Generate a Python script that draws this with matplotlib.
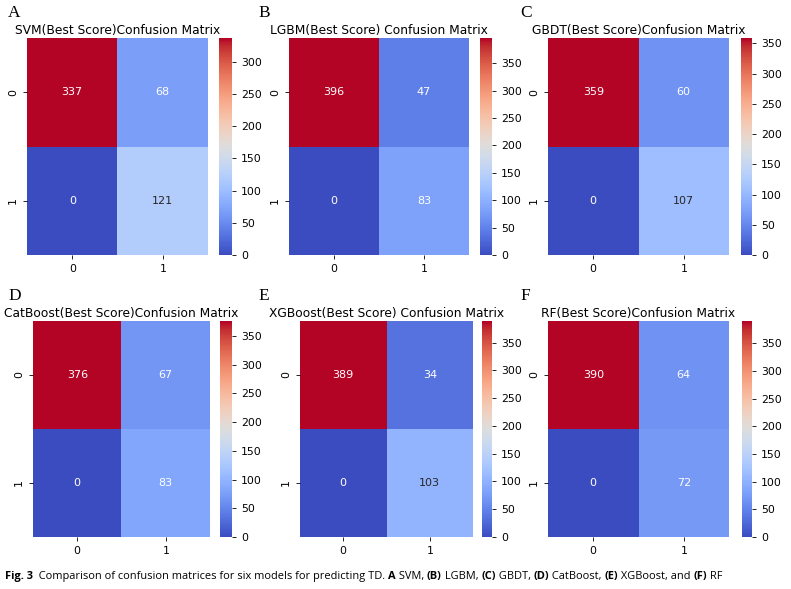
import matplotlib

matplotlib.use("Agg")

import matplotlib.pyplot as plt
import numpy as np
import seaborn as sns


FIG_W, FIG_H = 791, 589

PANEL_LETTERS = ["A", "B", "C", "D", "E", "F"]
TITLES = [
    "SVM(Best Score)Confusion Matrix",
    "LGBM(Best Score) Confusion Matrix",
    "GBDT(Best Score)Confusion Matrix",
    "CatBoost(Best Score)Confusion Matrix",
    "XGBoost(Best Score) Confusion Matrix",
    "RF(Best Score)Confusion Matrix",
]
SVM_CM = [[337, 68], [0, 121]]
LGBM_CM = [[396, 47], [0, 83]]
GBDT_CM = [[359, 60], [0, 107]]
CATBOOST_CM = [[376, 67], [0, 83]]
XGBOOST_CM = [[389, 34], [0, 103]]
RF_CM = [[390, 64], [0, 72]]
MATRICES = [SVM_CM, LGBM_CM, GBDT_CM, CATBOOST_CM, XGBOOST_CM, RF_CM]
CLASS_LABELS = ["0", "1"]

# pixel boxes: heatmap (left, right), colorbar (left, right), row (top, bottom), letter x
LAYOUT = [
    ((27, 208), (219, 232), (38, 255), 8),
    ((289, 469), (480, 492), (38, 255), 258),
    ((548, 729), (741, 752), (38, 255), 520),
    ((33, 210), (220, 232), (321, 537), 8),
    ((300, 473), (482, 492), (321, 537), 258),
    ((548, 729), (742, 752), (321, 537), 520),
]

CAPTION_PARTS = [
    ("Fig. 3", "bold"),
    ("  Comparison of confusion matrices for six models for predicting TD. ", "normal"),
    ("A", "bold"),
    (" SVM, ", "normal"),
    ("(B)", "bold"),
    (" LGBM, ", "normal"),
    ("(C)", "bold"),
    (" GBDT, ", "normal"),
    ("(D)", "bold"),
    (" CatBoost, ", "normal"),
    ("(E)", "bold"),
    (" XGBoost, and ", "normal"),
    ("(F)", "bold"),
    (" RF", "normal"),
]


def px_box(x0, x1, y0, y1):
    return [x0 / FIG_W, 1 - y1 / FIG_H, (x1 - x0) / FIG_W, (y1 - y0) / FIG_H]


fig = plt.figure(figsize=(FIG_W / 100, FIG_H / 100), dpi=100)

for letter, title, matrix, (hm_x, cb_x, row_y, letter_x) in zip(PANEL_LETTERS, TITLES, MATRICES, LAYOUT):
    ax = fig.add_axes(px_box(hm_x[0], hm_x[1], row_y[0], row_y[1]))
    cax = fig.add_axes(px_box(cb_x[0], cb_x[1], row_y[0], row_y[1]))
    sns.heatmap(
        np.array(matrix),
        ax=ax,
        cbar_ax=cax,
        cmap="coolwarm",
        annot=True,
        fmt="d",
        annot_kws={"fontsize": 8},
        xticklabels=CLASS_LABELS,
        yticklabels=CLASS_LABELS,
    )
    ax.set_title(title, fontsize=8.8, pad=3)
    ax.tick_params(labelsize=7.8, length=3, width=0.6)
    plt.setp(ax.get_yticklabels(), rotation=90, va="center")
    cax.tick_params(labelsize=7.8, length=3, width=0.6)
    fig.text(
        letter_x / FIG_W,
        1 - (row_y[0] - 25) / FIG_H,
        letter,
        family="Liberation Serif",
        fontsize=12.5,
        va="center",
        ha="left",
    )

cap_ax = fig.add_axes([0, 0, 1, 1])
cap_ax.set_axis_off()
prev = cap_ax.text(5 / FIG_W, 1 - 579 / FIG_H, CAPTION_PARTS[0][0], fontsize=7.9,
                   fontweight=CAPTION_PARTS[0][1], family="Open Sans", va="baseline")
for text, weight in CAPTION_PARTS[1:]:
    prev = cap_ax.annotate(
        text,
        xy=(1, 0),
        xycoords=prev,
        va="bottom",
        fontsize=7.9,
        fontweight=weight,
        family="Open Sans",
    )

fig.savefig("out.png", dpi=100)
plt.close(fig)
